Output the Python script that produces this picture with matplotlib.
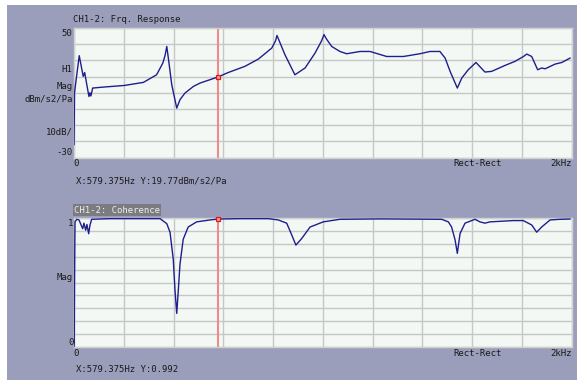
import matplotlib
matplotlib.use('Agg')
import matplotlib.pyplot as plt
from matplotlib.patches import Rectangle

# Figure geometry (pixels)
W, H = 577, 380
FRAME_COLOR = '#9b9ebb'
PLOT_BG = '#f4f8f4'
GRID_COLOR = '#c6c8c6'
LINE_COLOR = '#1e1e8c'
CURSOR_COLOR = '#f08a8a'
TEXT_COLOR = '#1a1a1a'
FONT = 'DejaVu Sans Mono'
FONT_SIZE = 6.5

# Data: frequency response H1 (Hz, dBm/s2/Pa)
frf_hz = [0, 2, 21, 37, 43, 48, 60, 64, 68, 75, 118, 202, 279, 332, 357, 366,
          373, 381, 393, 413, 426, 446, 480, 507, 579.375, 620, 687, 741, 795,
          810, 816, 848, 888, 929, 969, 995, 1005, 1015, 1036, 1069, 1096,
          1150, 1190, 1257, 1324, 1391, 1431, 1471, 1492, 1512, 1541, 1559,
          1585, 1616, 1652, 1679, 1733, 1773, 1808, 1820, 1840, 1864, 1880,
          1894, 1934, 1961, 1994]
frf_db = [-22, 10, 32.9, 20.1, 22.5, 18, 7.7, 10, 8, 12.9, 13.5, 14.5, 16.4,
          21.1, 28.3, 33.0, 38.6, 29.4, 14.9, 0.5, 5.7, 9.8, 13.9, 16.0, 19.77,
          22.5, 26.3, 30.8, 37.6, 42.0, 45.4, 33.5, 21.1, 25.3, 34.5, 42.0,
          45.9, 43.2, 38.6, 35.5, 34.1, 35.5, 35.5, 32.4, 32.4, 34.1, 35.5,
          35.5, 31.4, 23.2, 12.9, 19.1, 24.2, 28.7, 22.8, 23.2, 26.9, 29.4,
          32.5, 33.9, 32.4, 24.2, 25.3, 24.8, 27.7, 28.7, 31.4]

# Data: coherence
coh_hz = [0, 1, 2, 4, 11, 20, 35, 40, 47, 52, 59, 64, 71, 145, 346, 373, 386,
          399, 406, 413, 419, 426, 439, 459, 493, 547, 579.375, 667, 781, 821,
          855, 875, 892, 915, 949, 1002, 1069, 1230, 1478, 1505, 1518, 1532,
          1541, 1552, 1572, 1612, 1632, 1652, 1672, 1766, 1806, 1840, 1860,
          1880, 1914, 1954, 1994]
coh_val = [0.0, 0.03, 0.5, 0.97, 0.99, 0.985, 0.917, 0.96, 0.905, 0.95, 0.878,
           0.943, 0.99, 0.995, 0.995, 0.956, 0.89, 0.68, 0.44, 0.26, 0.43,
           0.64, 0.835, 0.93, 0.97, 0.985, 0.992, 0.995, 0.995, 0.985, 0.96,
           0.87, 0.79, 0.84, 0.93, 0.97, 0.99, 0.993, 0.99, 0.97, 0.93, 0.83,
           0.726, 0.88, 0.96, 0.99, 0.97, 0.96, 0.97, 0.98, 0.98, 0.946, 0.89,
           0.93, 0.985, 0.99, 0.992]

CURSOR_HZ = 579.375
CURSOR_DB = 19.77
CURSOR_COH = 0.992


def fx(x):
    return x / W


def fy(y):
    return 1 - y / H


def add_text(fig, x, y, s, ha='left'):
    fig.text(fx(x), fy(y), s, ha=ha, va='center', family=FONT,
             fontsize=FONT_SIZE, color=TEXT_COLOR)


def make_axes(fig, top, bottom, ylim, ystep):
    left, right = 74, 571.5
    ax = fig.add_axes([fx(left), fy(bottom), (right - left) / W,
                       (bottom - top) / H])
    ax.set_facecolor(PLOT_BG)
    ax.set_xlim(0, 2000)
    ax.set_ylim(*ylim)
    ax.set_xticks(range(0, 2001, 200))
    n = int(round((ylim[1] - ylim[0]) / ystep))
    ax.set_yticks([ylim[0] + i * ystep for i in range(n + 1)])
    ax.grid(True, color=GRID_COLOR, lw=1.0)
    ax.set_axisbelow(True)
    ax.tick_params(length=0, labelleft=False, labelbottom=False)
    for sp in ax.spines.values():
        sp.set_color('#d0d2d0')
        sp.set_linewidth(1.0)
    return ax


def main():
    fig = plt.figure(figsize=(W / 100, H / 100), dpi=100)
    fig.patch.set_facecolor(FRAME_COLOR)
    # white margins on the left and top of the capture
    fig.patches.append(Rectangle((0, 0), fx(7), 1, transform=fig.transFigure,
                                 facecolor='white', edgecolor='none'))
    fig.patches.append(Rectangle((0, fy(5)), 1, 1 - fy(5), transform=fig.transFigure,
                                 facecolor='white', edgecolor='none'))

    # Top panel: frequency response
    ax1 = make_axes(fig, 28, 157.5, (-30, 50), 10)
    ax1.plot(frf_hz, frf_db, color=LINE_COLOR, lw=1.0, zorder=3)
    ax1.axvline(CURSOR_HZ, color=CURSOR_COLOR, lw=1.5, zorder=2)
    ax1.plot([CURSOR_HZ], [CURSOR_DB], marker='s', ms=3.5, mfc='#f4a0a0',
             mec='#e01818', mew=0.9, zorder=4)

    add_text(fig, 73, 20, 'CH1-2: Frq. Response')
    add_text(fig, 72.5, 33, '50', ha='right')
    add_text(fig, 72.5, 69, 'H1', ha='right')
    add_text(fig, 72.5, 86.5, 'Mag', ha='right')
    add_text(fig, 72.5, 99.5, 'dBm/s2/Pa', ha='right')
    add_text(fig, 72.5, 132.5, '10dB/', ha='right')
    add_text(fig, 72.5, 152.5, '-30', ha='right')
    add_text(fig, 76, 164, '0', ha='center')
    add_text(fig, 478, 164, 'Rect-Rect', ha='center')
    add_text(fig, 572, 164, '2kHz', ha='right')
    add_text(fig, 76, 181, 'X:579.375Hz Y:19.77dBm/s2/Pa')

    # Bottom panel: coherence
    ax2 = make_axes(fig, 218, 347, (0, 1), 0.1)
    ax2.plot(coh_hz, coh_val, color=LINE_COLOR, lw=1.0, zorder=3)
    ax2.axvline(CURSOR_HZ, color=CURSOR_COLOR, lw=1.5, zorder=2)
    ax2.plot([CURSOR_HZ], [CURSOR_COH], marker='s', ms=3.5, mfc='#f4a0a0',
             mec='#e01818', mew=0.9, zorder=4, clip_on=False)

    fig.text(fx(74), fy(210), 'CH1-2: Coherence', ha='left', va='center',
             family=FONT, fontsize=FONT_SIZE, color='#eeeeee',
             bbox=dict(boxstyle='square,pad=0.15', facecolor='#7c7c80',
                       edgecolor='none'))
    add_text(fig, 73.5, 223, '1', ha='right')
    add_text(fig, 72.5, 277, 'Mag', ha='right')
    add_text(fig, 73.5, 342.5, '0', ha='right')
    add_text(fig, 76, 354, '0', ha='center')
    add_text(fig, 478, 354, 'Rect-Rect', ha='center')
    add_text(fig, 572, 354, '2kHz', ha='right')
    add_text(fig, 76, 370, 'X:579.375Hz Y:0.992')

    fig.savefig('out.png', dpi=100, facecolor=fig.get_facecolor())


if __name__ == "__main__":
    main()
